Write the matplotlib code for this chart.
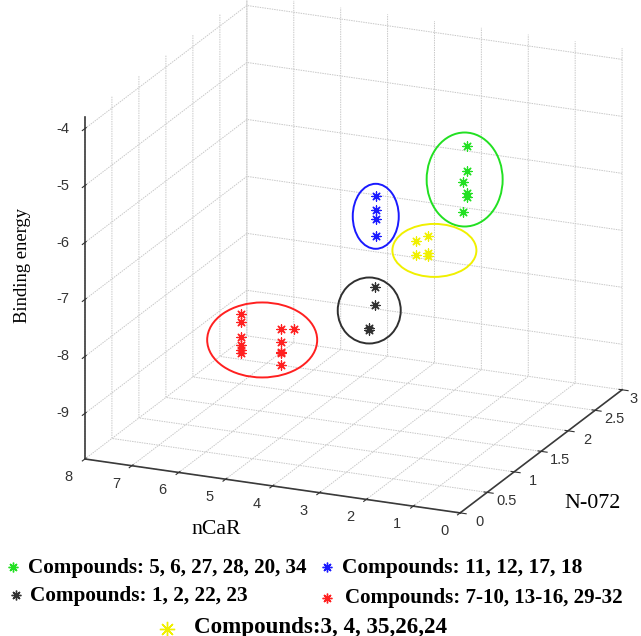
import numpy as np
import matplotlib
matplotlib.use("Agg")
import matplotlib.pyplot as plt
from matplotlib.patches import Ellipse
from mpl_toolkits.mplot3d import proj3d

# ---------------- data ----------------
x_ticks = [0, 1, 2, 3, 4, 5, 6, 7, 8]
y_ticks = [0, 0.5, 1, 1.5, 2, 2.5, 3]
z_ticks = [-9, -8, -7, -6, -5, -4]
x_lim = (8, 0)          # nCaR axis is reversed
y_lim = (0, 3)
z_lim = (-9.8, -3.8)

green_ncar = [1.0, 1.0, 1.1, 1.0, 1.0, 1.1]
green_n072 = [1, 1, 1, 1, 1, 1]
green_be = [-4.20, -4.64, -4.84, -5.02, -5.09, -5.37]

blue_ncar = [2.95, 2.95, 2.95, 2.95]
blue_n072 = [1, 1, 1, 1]
blue_be = [-5.31, -5.55, -5.71, -6.01]

black_ncar = [2.96, 2.96, 3.09, 3.09]
black_n072 = [1, 1, 1, 1]
black_be = [-6.91, -7.22, -7.64, -7.67]

yellow_ncar = [2.09, 1.83, 2.09, 1.83, 1.83]
yellow_n072 = [1, 1, 1, 1, 1]
yellow_be = [-6.00, -5.88, -6.24, -6.18, -6.23]

red_ncar = [5.82, 5.82, 5.82, 5.82, 5.82, 5.82, 4.97, 4.97, 4.97, 4.97, 4.97, 4.69]
red_n072 = [1, 1, 1, 1, 1, 1, 1, 1, 1, 1, 1, 1]
red_be = [-7.72, -7.86, -8.12, -8.26, -8.35, -8.40,
          -7.88, -8.11, -8.28, -8.30, -8.52, -7.85]

label_green = "Compounds: 5, 6, 27, 28, 20, 34"
label_blue = "Compounds: 11, 12, 17, 18"
label_black = "Compounds: 1, 2, 22, 23"
label_red = "Compounds: 7-10, 13-16, 29-32"
label_yellow = "Compounds:3, 4, 35,26,24"

x_label = "nCaR"
y_label = "N-072"
z_label = "Binding energy"

# ---------------- style ----------------
W, H = 641, 636
C_GREEN = "#22e022"
C_BLUE = "#1a1aff"
C_BLACK = "#303030"
C_YELLOW = "#f0f000"
C_RED = "#ff2020"
C_TICK = "#333333"
AST = (8, 2, 0)

plt.rcParams["font.family"] = ["Liberation Sans", "DejaVu Sans"]
plt.rcParams["grid.color"] = "#c8c8c8"
plt.rcParams["grid.linewidth"] = 0.7
plt.rcParams["grid.linestyle"] = (0, (1.5, 1))

fig = plt.figure(figsize=(W / 100, H / 100), dpi=100)
fig.patch.set_facecolor("white")
S0 = 520
ax = fig.add_axes([0.1, 0.15, S0 / W, S0 / H], projection="3d")
ax.set_proj_type("ortho")
ax.view_init(elev=19.3, azim=-66.5)
ax.set_box_aspect((409, 406, 362))
ax.set_facecolor("white")

groups = [
    (green_ncar, green_n072, green_be, C_GREEN),
    (blue_ncar, blue_n072, blue_be, C_BLUE),
    (black_ncar, black_n072, black_be, C_BLACK),
    (yellow_ncar, yellow_n072, yellow_be, C_YELLOW),
    (red_ncar, red_n072, red_be, C_RED),
]
for gx, gy, gz, c in groups:
    ax.scatter(gx, gy, gz, marker=AST, s=44, c=c, linewidths=0.9,
               depthshade=False)

ax.set_xlim(*x_lim)
ax.set_ylim(*y_lim)
ax.set_zlim(*z_lim)
ax.set_xticks(x_ticks)
ax.set_yticks(y_ticks)
ax.set_zticks(z_ticks)
ax.set_xticklabels([])
ax.set_yticklabels([])
ax.set_zticklabels([])
for axis in (ax.xaxis, ax.yaxis, ax.zaxis):
    axis.set_pane_color((1, 1, 1, 0))
    axis.line.set_color("#3a3a3a")
    axis.line.set_linewidth(1.2)
ax.zaxis.set_ticks_position("lower")
ax.zaxis.set_label_position("lower")
ax.tick_params(axis="both", colors=C_TICK)

corners = []
targets = []
base_img = {(0, 0): (460, 513), (8, 0): (85, 459), (0, 3): (622, 390), (8, 3): (247, 336)}
for (cx, cy), (px, py) in base_img.items():
    for cz, dz in ((z_lim[0], 0), (z_lim[1], -342)):
        corners.append((cx, cy, cz))
        targets.append((px, H - (py + dz)))
targets = np.array(targets, float)


def project(xs, ys, zs):
    M = ax.get_proj()
    X, Y, _ = proj3d.proj_transform(np.asarray(xs, float), np.asarray(ys, float),
                                    np.asarray(zs, float), M)
    return ax.transData.transform(np.column_stack([X, Y]))


for _ in range(2):
    fig.canvas.draw()
    cs = np.array(corners, float)
    p = project(cs[:, 0], cs[:, 1], cs[:, 2])
    bb = ax.get_position()
    P0 = np.array([bb.x0 * W, bb.y0 * H])
    S = bb.width * W
    u = (p - P0) / S
    n = len(u)
    A = np.zeros((2 * n, 3))
    b = np.zeros(2 * n)
    A[:n, 0] = 1
    A[:n, 2] = u[:, 0]
    b[:n] = targets[:, 0]
    A[n:, 1] = 1
    A[n:, 2] = u[:, 1]
    b[n:] = targets[:, 1]
    sol, *_ = np.linalg.lstsq(A, b, rcond=None)
    a0, b0, s1 = sol
    ax.set_position([a0 / W, b0 / H, s1 / W, s1 / H])

fig.canvas.draw()

# ---------------- overlay (image-pixel coordinates) ----------------
ov = fig.add_axes([0, 0, 1, 1], zorder=5)
ov.set_xlim(0, W)
ov.set_ylim(H, 0)
ov.axis("off")


def to_img(xs, ys, zs):
    pp = project(xs, ys, zs)
    return pp[:, 0], H - pp[:, 1]


# tick labels placed next to the projected tick positions
TICK_FS = 10.5
n = len(x_ticks)
px, py = to_img(x_ticks, [y_lim[0]] * n, [z_lim[0]] * n)
for v, xx, yy in zip(x_ticks, px, py):
    ov.text(xx - 16, yy + 18, f"{v:g}", fontsize=TICK_FS, color=C_TICK,
            ha="center", va="center", clip_on=False)
n = len(y_ticks)
px, py = to_img([x_lim[1]] * n, y_ticks, [z_lim[0]] * n)
for v, xx, yy in zip(y_ticks, px, py):
    ov.text(min(xx + 19, W - 7), yy + 9, f"{v:g}", fontsize=TICK_FS, color=C_TICK,
            ha="center", va="center", clip_on=False)
n = len(z_ticks)
px, py = to_img([x_lim[0]] * n, [y_lim[0]] * n, z_ticks)
for v, xx, yy in zip(z_ticks, px, py):
    ov.text(xx - 16, yy, f"{v:g}", fontsize=TICK_FS, color=C_TICK,
            ha="right", va="center", clip_on=False)

ell_style = [  # (dx, dy, width, height)
    (-1, -4, 76, 94),
    (0, 1, 46, 65),
    (-3, -2, 63, 66),
    (11, 2, 84, 53),
    (0, -1, 110, 75),
]
for (gx, gy, gz, c), (dx, dy, ew, eh) in zip(groups, ell_style):
    ex, ey = to_img(gx, gy, gz)
    ov.add_patch(Ellipse((ex.mean() + dx, ey.mean() + dy), ew, eh,
                         fill=False, ec=c, lw=1.4))

renderer = fig.canvas.get_renderer()


def fit_text(x, y, s, target_w, **kw):
    t = ov.text(x, y, s, fontsize=12, **kw)
    ext = t.get_window_extent(renderer)
    w = max(ext.width, ext.height) if kw.get("rotation") else ext.width
    t.set_fontsize(12 * target_w / w)
    return t


serif = ["Liberation Serif", "DejaVu Serif"]
fit_text(23, 265, z_label, 115, family=serif, rotation=90, ha="center", va="center")
fit_text(216, 530, x_label, 49, family=serif, ha="center", va="center")
fit_text(593, 503, y_label, 56, family=serif, ha="center", va="center")

legend_items = [  # label, colour, marker x, marker y, text x, text y, width, marker size
    (label_green, C_GREEN, 13, 567, 28, 568, 279, 7),
    (label_blue, C_BLUE, 327, 567, 342, 568, 238, 7),
    (label_black, C_BLACK, 16, 595, 30, 596, 217, 7),
    (label_red, C_RED, 327, 598, 345, 598, 278, 7),
    (label_yellow, C_YELLOW, 167, 629, 194, 627, 252, 11),
]
for lab, c, mx, my, tx, ty, tw, ms in legend_items:
    ov.plot([mx], [my], marker=AST, ms=ms, mew=1.0, color=c, ls="none")
    fit_text(tx, ty, lab, tw, family=serif, weight="bold", ha="left", va="center")

fig.savefig("out.png", dpi=100, facecolor="white")
